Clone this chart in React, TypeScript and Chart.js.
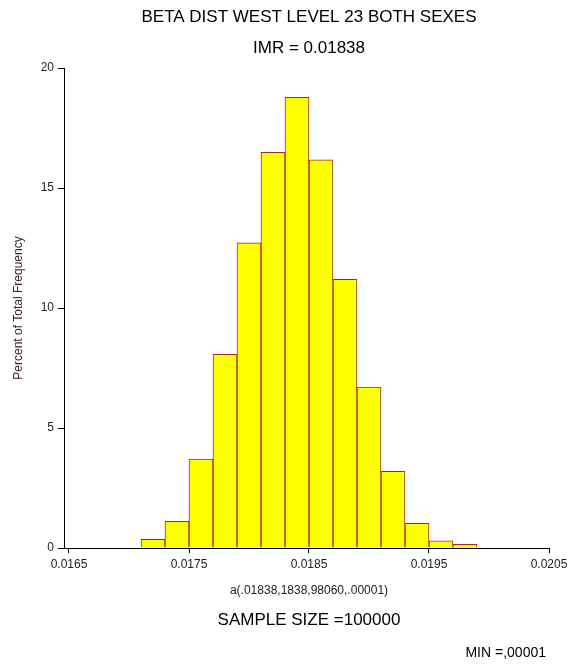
import React, { useEffect, useRef } from "react";
import { Chart, registerables } from "chart.js";

Chart.register(...registerables);

const binCenters = [
  0.0172, 0.0174, 0.0176, 0.0178, 0.018, 0.0182, 0.0184,
  0.0186, 0.0188, 0.019, 0.0192, 0.0194, 0.0196, 0.0198,
];
const percents = [
  0.36, 1.11, 3.71, 8.07, 12.72, 16.49, 18.78,
  16.17, 11.19, 6.7, 3.19, 1.03, 0.3, 0.15,
];
const xTicks = [0.0165, 0.0175, 0.0185, 0.0195, 0.0205];
const yTicks = [0, 5, 10, 15, 20];

const titleText = "BETA DIST WEST LEVEL 23 BOTH SEXES";
const subtitleText = "IMR = 0.01838";
const xTitleText = "a(.01838,1838,98060,.00001)";
const sampleText = "SAMPLE SIZE =100000";
const minText = "MIN =,00001";
const yTitleText = "Percent of Total Frequency";

const FONT = "Arial, 'Liberation Sans', Helvetica, sans-serif";

const textPlugin = {
  id: "extraText",
  afterDraw(chart: any) {
    const ctx = chart.ctx;
    const xs = chart.scales.x;
    const cx = xs.getPixelForValue((xTicks[0] + xTicks[xTicks.length - 1]) / 2);
    ctx.save();
    ctx.fillStyle = "#000";
    ctx.textAlign = "center";
    ctx.textBaseline = "middle";
    ctx.font = `17px ${FONT}`;
    ctx.fillText(titleText, cx, 17);
    ctx.fillText(subtitleText, cx, 48);
    ctx.fillText(sampleText, cx, 620);
    ctx.font = `12px ${FONT}`;
    ctx.fillStyle = "#222";
    ctx.fillText(xTitleText, cx, 591);
    ctx.font = `14px ${FONT}`;
    ctx.fillStyle = "#000";
    ctx.textAlign = "right";
    ctx.fillText(minText, 546, 653);
    ctx.translate(19, (chart.chartArea.top + chart.chartArea.bottom) / 2);
    ctx.rotate(-Math.PI / 2);
    ctx.textAlign = "center";
    ctx.font = `12px ${FONT}`;
    ctx.fillStyle = "#3a2222";
    ctx.fillText(yTitleText, 0, 0);
    ctx.restore();
  },
};

export default function App() {
  const ref = useRef<HTMLCanvasElement>(null);

  useEffect(() => {
    if (!ref.current) return;
    const chart = new Chart(ref.current, {
      type: "bar",
      data: {
        datasets: [
          {
            data: binCenters.map((x, i) => ({ x, y: percents[i] })),
            backgroundColor: "#ffff00",
            borderColor: "#a8282c",
            borderWidth: 1,
            barPercentage: 1,
            categoryPercentage: 1,
          },
        ],
      },
      options: {
        responsive: false,
        animation: false,
        devicePixelRatio: 1,
        layout: { padding: { left: 0, right: 20, top: 68, bottom: 87 } },
        plugins: {
          legend: { display: false },
          tooltip: { enabled: false },
          title: { display: false },
        },
        scales: {
          x: {
            type: "linear",
            offset: false,
            min: xTicks[0] - 5 / 120000,
            max: xTicks[xTicks.length - 1],
            afterBuildTicks: (scale: any) => {
              scale.ticks = xTicks.map((v) => ({ value: v }));
            },
            afterFit: (scale: any) => {
              scale.height = 30;
              scale.paddingLeft = 0;
              scale.paddingRight = 0;
            },
            ticks: {
              autoSkip: false,
              maxRotation: 0,
              padding: 4,
              color: "#222",
              font: { family: FONT, size: 12 },
              callback: (v: any) => Number(v).toFixed(4),
            },
            grid: {
              offset: false,
              drawOnChartArea: false,
              drawTicks: true,
              tickLength: 5,
              color: "#000",
            },
            border: { display: true, color: "#000", width: 1 },
          },
          y: {
            min: yTicks[0],
            max: yTicks[yTicks.length - 1],
            afterBuildTicks: (scale: any) => {
              scale.ticks = yTicks.map((v) => ({ value: v }));
            },
            afterFit: (scale: any) => {
              scale.width = 64;
              scale.paddingTop = 0;
              scale.paddingBottom = 0;
            },
            ticks: {
              padding: 4,
              color: "#222",
              font: { family: FONT, size: 12 },
            },
            grid: {
              offset: false,
              drawOnChartArea: false,
              drawTicks: true,
              tickLength: 6,
              color: "#000",
            },
            border: { display: true, color: "#000", width: 1 },
          },
        },
      },
      plugins: [textPlugin],
    });
    return () => chart.destroy();
  }, []);

  return (
    <div style={{ position: "fixed", left: 0, top: 0, width: 569, height: 665, background: "#fff" }}>
      <canvas ref={ref} width={569} height={665} style={{ width: 569, height: 665, display: "block" }} />
    </div>
  );
}
